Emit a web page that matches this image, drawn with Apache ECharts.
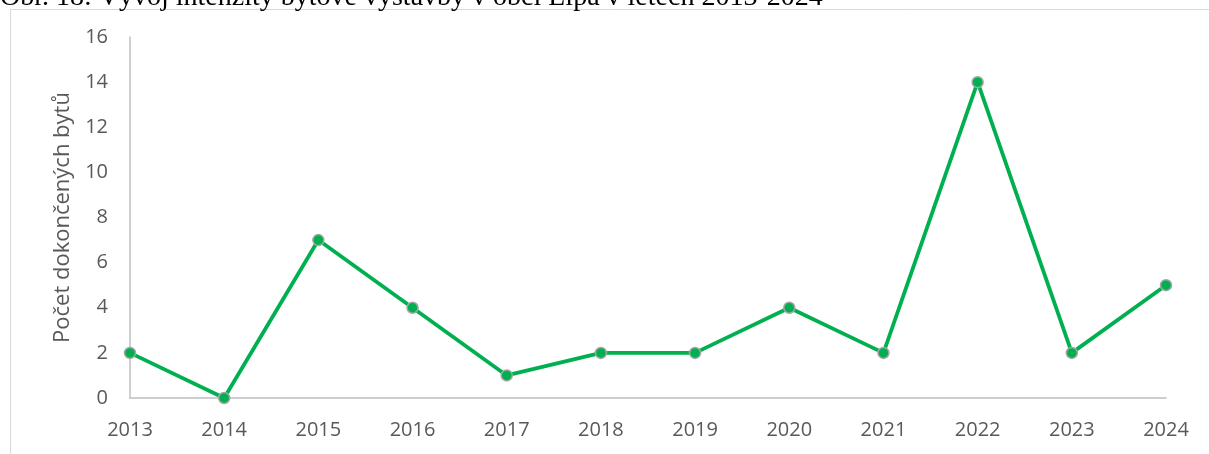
<!DOCTYPE html>
<html><head><meta charset="utf-8">
<script src="https://cdn.jsdelivr.net/npm/echarts@6/dist/echarts.min.js"></script>
<style>html,body{margin:0;padding:0;background:#fff}#c{width:1209px;height:454px}</style>
</head><body><div id="c"></div>
<script>
const caption = 'Obr. 18: Vývoj intenzity bytové výstavby v obci Lípa v letech 2013-2024';
const yAxisName = 'Počet dokončených bytů';
const years = ['2013','2014','2015','2016','2017','2018','2019','2020','2021','2022','2023','2024'];
const completedFlats = [2, 0, 7, 4, 1, 2, 2, 4, 2, 14, 2, 5];

const FONT = '"Open Sans", sans-serif';
const chart = echarts.init(document.getElementById('c'));
chart.setOption({
  animation: false,
  backgroundColor: '#fff',
  graphic: [
    { type: 'rect', shape: { x: 10.5, y: 9.5, width: 1300, height: 600 }, style: { fill: 'none', stroke: '#d9d9d9', lineWidth: 1 }, z: -1 },
    { type: 'text', x: 0, y: 12, style: { text: caption, font: '28px "Liberation Serif"', fill: '#000', textVerticalAlign: 'bottom' } }
  ],
  grid: { left: 130, right: 43, top: 37, bottom: 56, containLabel: false },
  xAxis: {
    type: 'category', data: years, boundaryGap: false,
    axisLine: { lineStyle: { color: '#bfbfbf', width: 1.5 } },
    axisTick: { show: false },
    axisLabel: { color: '#595959', fontSize: 20, fontFamily: FONT, margin: 22 }
  },
  yAxis: {
    type: 'value', min: 0, max: 16, interval: 2,
    name: yAxisName, nameLocation: 'middle', nameGap: 55,
    nameTextStyle: { color: '#595959', fontSize: 22, fontFamily: FONT },
    axisLine: { show: true, lineStyle: { color: '#bfbfbf', width: 1.5 } },
    axisTick: { show: false },
    splitLine: { show: false },
    axisLabel: { color: '#595959', fontSize: 20, fontFamily: FONT, margin: 22 }
  },
  series: [{
    type: 'line', data: completedFlats,
    lineStyle: { color: '#00b050', width: 3.8 },
    symbol: 'circle', symbolSize: 11,
    itemStyle: { color: '#00b050', borderColor: '#a5a5a5', borderWidth: 1.5 }
  }]
});
</script></body></html>
